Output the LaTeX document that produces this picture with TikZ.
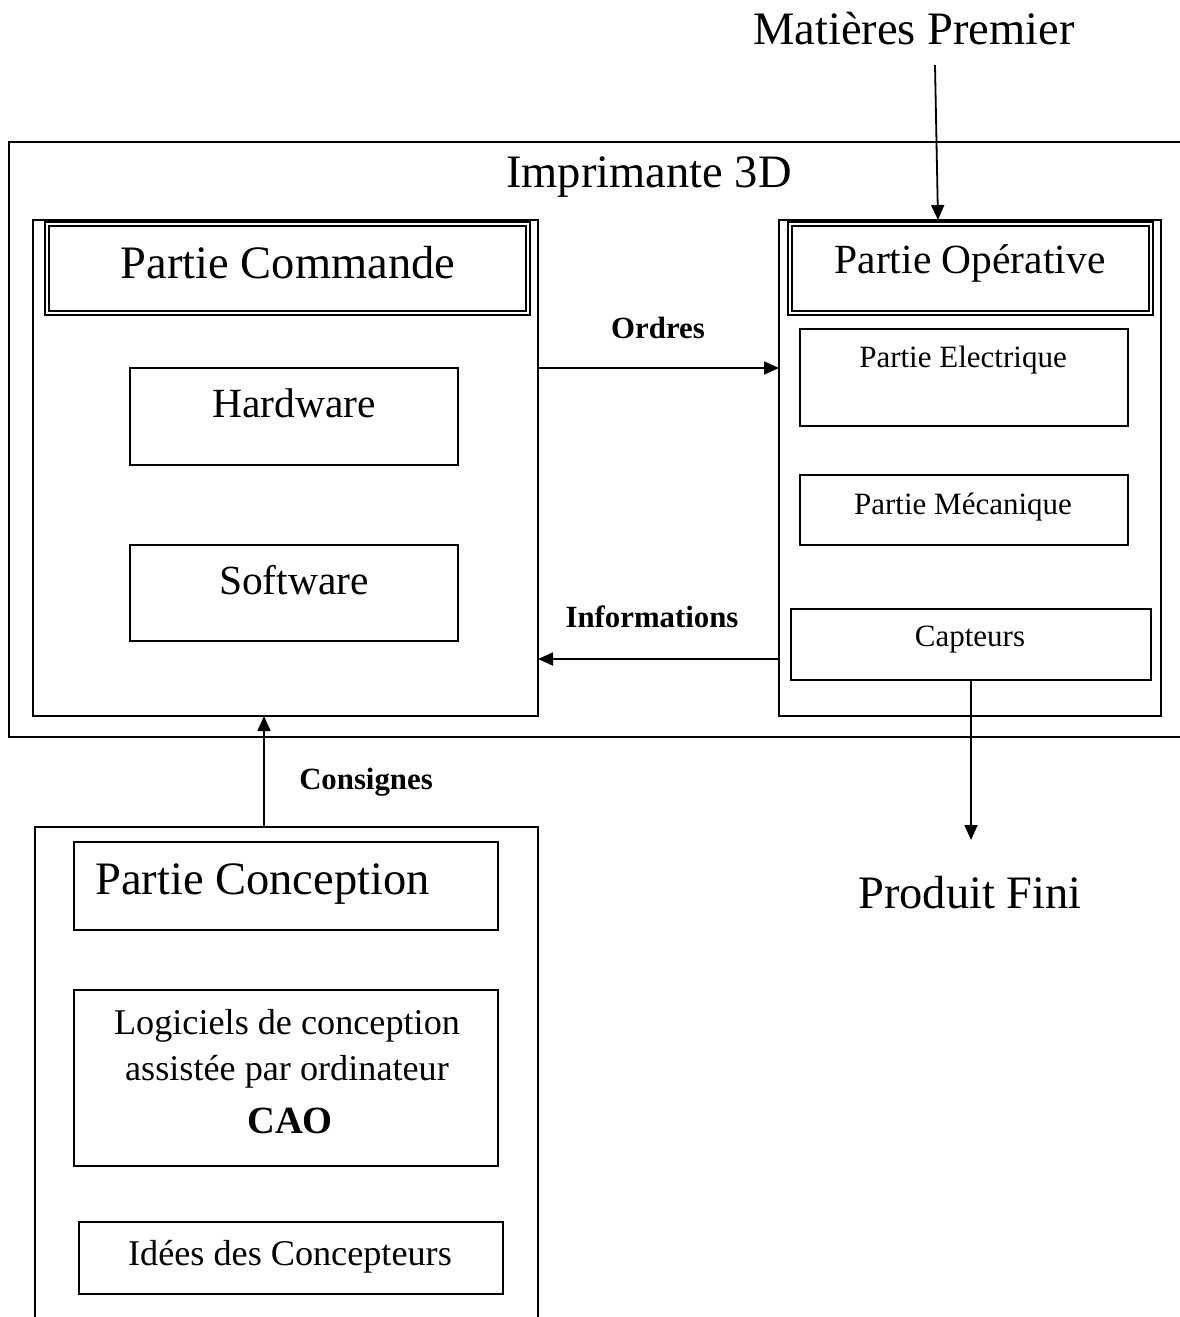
\documentclass[tikz,border=0pt]{standalone}
\usepackage{fontspec}
\setmainfont{Liberation Serif}
\usetikzlibrary{arrows.meta,calc}
\tikzset{
 box/.style={draw, line width=1.8pt, inner sep=0pt, outer sep=0pt},
 thinbox/.style={draw, line width=1.3pt, inner sep=0pt, outer sep=0pt},
 dbox/.style={draw, double, line width=2.8pt, double distance=1.2pt, inner sep=0pt, outer sep=0pt},
 big/.style={font=\fontsize{46.5}{50}\selectfont, anchor=base, inner sep=0pt},
 mid/.style={font=\fontsize{41.5}{45}\selectfont, anchor=base, inner sep=0pt},
 small/.style={font=\fontsize{31}{34}\selectfont, anchor=base, inner sep=0pt},
 lbl/.style={font=\fontsize{30.8}{34}\selectfont\bfseries, anchor=base, inner sep=0pt},
 caotxt/.style={font=\fontsize{36.2}{40}\selectfont, anchor=base, inner sep=0pt},
 conn/.style={line width=1.8pt, -{Triangle[length=15pt,width=13pt]}},
}
\begin{document}
\begin{tikzpicture}[x=1pt,y=-1pt]
\useasboundingbox (0,0) rectangle (1179,1317);
% boxes
\node[box, minimum width=1181pt, minimum height=595pt] (imp) at (599.5,439.5) {};
\node[box, minimum width=505pt, minimum height=496pt] (cmd) at (285.5,468) {};
\node[dbox, minimum width=481pt, minimum height=89pt] (cmdt) at (287.5,268.5) {};
\node[box, minimum width=328pt, minimum height=97pt] (hw) at (294,416.5) {};
\node[box, minimum width=328pt, minimum height=96pt] (sw) at (294,593) {};
\node[box, minimum width=382pt, minimum height=496pt] (op) at (970,468) {};
\node[dbox, minimum width=361pt, minimum height=89pt] (opt) at (970.5,268.5) {};
\node[box, minimum width=328pt, minimum height=97pt] (el) at (964,377.5) {};
\node[box, minimum width=328pt, minimum height=70pt] (meca) at (964,510) {};
\node[box, minimum width=360pt, minimum height=71pt] (capt) at (971,644.5) {};
\node[box, minimum width=503pt, minimum height=503pt] (conc) at (286.5,1078.5) {};
\node[thinbox, minimum width=424pt, minimum height=88pt] (conct) at (286,886) {};
\node[thinbox, minimum width=424pt, minimum height=176pt] (cao) at (286,1078) {};
\node[box, minimum width=424pt, minimum height=72pt] (idee) at (291,1258) {};
% texts
\node[big] (tmp) at (914,44) {Matières Premier};
\node[big] (timp) at (649,187) {Imprimante 3D};
\node[big] (tcmd) at (288,278) {Partie Commande};
\node[mid] (top) at (970,273) {Partie Opérative};
\node[mid] (thw) at (294,417) {Hardware};
\node[mid] (tsw) at (294,594) {Software};
\node[small] (tel) at (963,367) {Partie Electrique};
\node[small] (tmeca) at (963,514) {Partie Mécanique};
\node[small] (tcapt) at (970,646) {Capteurs};
\node[lbl] (tord) at (658,338) {Ordres};
\node[lbl] (tinf) at (652,627) {Informations};
\node[lbl] (tcons) at (366,789) {Consignes};
\node[big] (tpf) at (970,908) {Produit Fini};
\node[big, anchor=base west] (tconc) at (95,894) {Partie Conception};
\node[caotxt] (tlog) at (287,1034) {Logiciels de conception};
\node[caotxt] (tass) at (287,1080) {assistée par ordinateur};
\node[caotxt, font=\fontsize{38.5}{42}\selectfont\bfseries] (tcao) at (290,1133) {CAO};
\node[caotxt] (tidee) at (290,1265) {Idées des Concepteurs};
% connectors
\coordinate (mpS) at (935,65);
\coordinate (pfE) at (971,840);
\draw[conn] (mpS) -- (op.north -| 938,0);
\draw[conn] (hw.north -| cmd.east) -- (hw.north -| op.west);
\draw[conn] (op.west |- 0,659) -- (cmd.east |- 0,659);
\draw[conn] (conc.north -| 264,0) -- (cmd.south -| 264,0);
\draw[conn] (capt.south) -- (pfE);
\end{tikzpicture}
\end{document}
